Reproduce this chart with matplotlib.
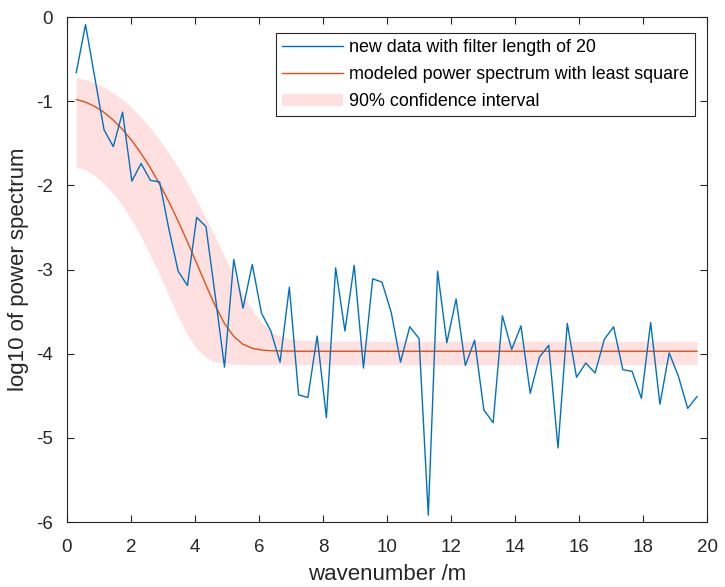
import numpy as np
import matplotlib
matplotlib.use('Agg')
import matplotlib.pyplot as plt

plt.rcParams['font.family'] = ['Liberation Sans', 'DejaVu Sans']
plt.rcParams['axes.unicode_minus'] = False

# wavenumber grid (68 points)
k = np.arange(1, 69) * 0.2895

# log10 power spectrum of the new data (filter length 20)
data = [-0.66, -0.09, -0.72, -1.34, -1.54, -1.13, -1.95, -1.74, -1.94, -1.96,
        -2.52, -3.02, -3.19, -2.38, -2.49, -3.31, -4.16, -2.88, -3.46, -2.94,
        -3.52, -3.73, -4.10, -3.21, -4.49, -4.52, -3.79, -4.76, -2.98, -3.73,
        -2.95, -4.17, -3.11, -3.15, -3.51, -4.10, -3.68, -3.82, -5.92, -3.02,
        -3.87, -3.35, -4.14, -3.84, -4.67, -4.82, -3.55, -3.95, -3.67, -4.47,
        -4.04, -3.90, -5.12, -3.64, -4.28, -4.11, -4.23, -3.83, -3.68, -4.19,
        -4.21, -4.53, -3.63, -4.60, -3.99, -4.27, -4.65, -4.51]

# least-square model (log10), first 24 points then flat
model_head = [-0.980, -1.011, -1.062, -1.133, -1.225, -1.336, -1.469, -1.621,
              -1.793, -1.985, -2.196, -2.425, -2.670, -2.927, -3.185, -3.431,
              -3.641, -3.795, -3.888, -3.936, -3.957, -3.965, -3.968, -3.969]
model = model_head + [-3.971] * (68 - len(model_head))

# 90% confidence interval edges (log10)
upper_head = [-0.720, -0.742, -0.780, -0.833, -0.900, -0.983, -1.081, -1.194,
              -1.320, -1.462, -1.620, -1.791, -1.977, -2.177, -2.389, -2.612,
              -2.841, -3.070, -3.288, -3.480, -3.630, -3.732, -3.792, -3.824,
              -3.839, -3.846, -3.849]
upper = upper_head + [-3.851] * (68 - len(upper_head))

lower_head = [-1.778, -1.818, -1.885, -1.978, -2.097, -2.243, -2.414, -2.609,
              -2.828, -3.065, -3.313, -3.557, -3.774, -3.939, -4.042, -4.094,
              -4.117, -4.126, -4.129]
lower = lower_head + [-4.131] * (68 - len(lower_head))

fig = plt.figure(figsize=(7.25, 5.87), dpi=100)
ax = fig.add_axes([0.0924, 0.1107, 0.8828, 0.8603])

ax.fill_between(k, lower, upper, color='#FFE0E1', lw=0, label='90% confidence interval', zorder=1)
ax.plot(k, data, color='#0072BD', lw=1.0, label='new data with filter length of 20', zorder=3)
ax.plot(k, model, color='#D95319', lw=1.0, label='modeled power spectrum with least square', zorder=2)

ax.set_xlim(0, 20)
ax.set_ylim(-6, 0)
ax.set_xticks(np.arange(0, 21, 2))
ax.set_yticks(np.arange(-6, 1, 1))
ax.tick_params(direction='in', top=True, right=True, length=5, width=0.8,
               labelsize=13.5, colors='#262626')
ax.tick_params(axis='x', pad=12)
ax.tick_params(axis='y', pad=10)
for s in ax.spines.values():
    s.set_color('#262626')
    s.set_linewidth(0.8)

ax.set_xlabel('wavenumber /m', fontsize=16, color='#262626', labelpad=6)
ax.set_ylabel('log10 of power spectrum', fontsize=16, color='#262626', labelpad=5)

h, l = ax.get_legend_handles_labels()
order = [1, 2, 0]
leg = ax.legend([h[i] for i in order], [l[i] for i in order], loc='upper right',
                bbox_to_anchor=(0.981, 0.968), borderaxespad=0, fontsize=12.9,
                handlelength=3.4, fancybox=False, framealpha=1, edgecolor='#262626',
                borderpad=0.35, labelspacing=0.55, handletextpad=0.3)
leg.get_frame().set_linewidth(0.8)

fig.savefig('out.png', dpi=100)
